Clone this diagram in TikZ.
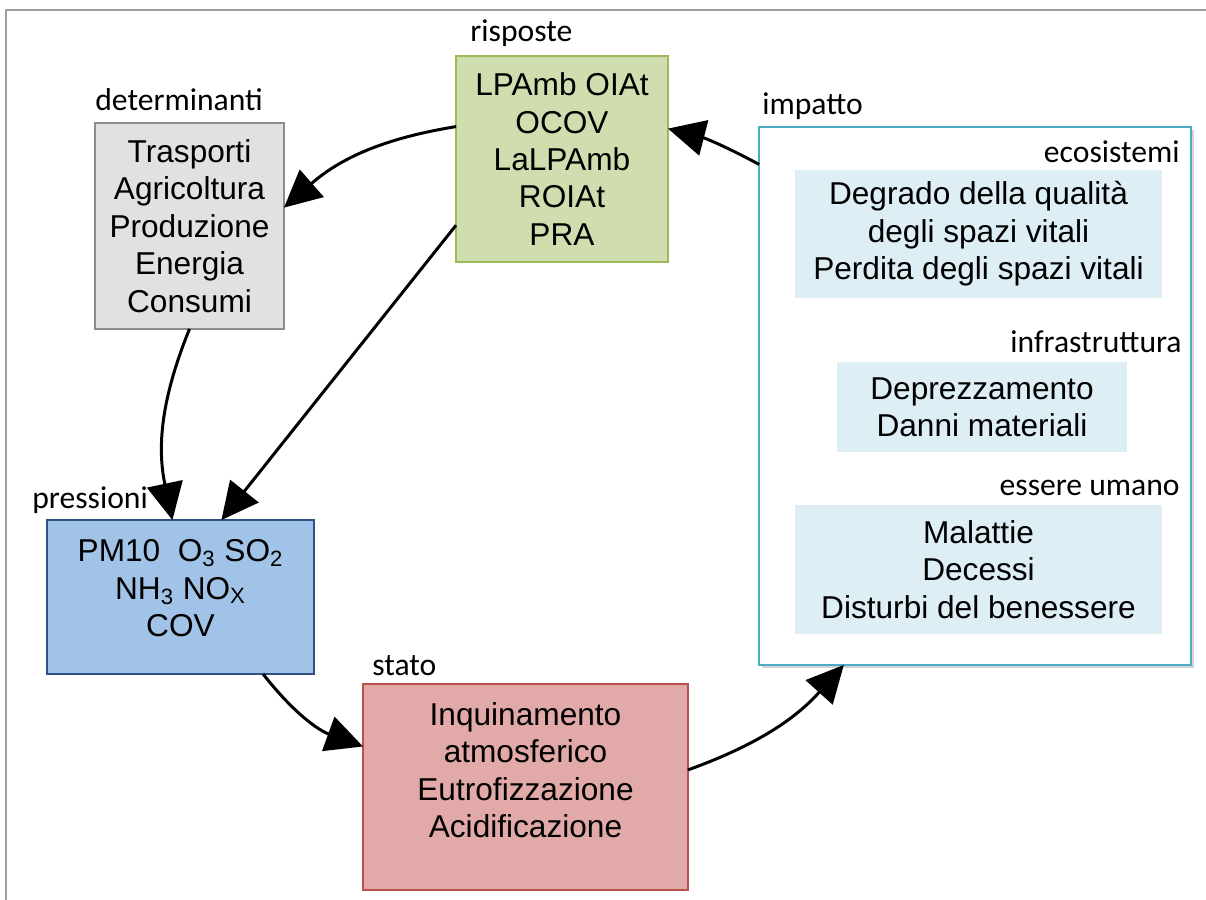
\documentclass[tikz,border=0pt]{standalone}
\usepackage{fontspec}
\setmainfont{Liberation Sans}
\newfontfamily\lblfont{Carlito}
\usepackage{xcolor}
\usetikzlibrary{arrows.meta, positioning, shadows}

\definecolor{detfill}{HTML}{E1E1E1}
\definecolor{detline}{HTML}{8C8C8C}
\definecolor{rispfill}{HTML}{D0DEAF}
\definecolor{rispline}{HTML}{9BBB59}
\definecolor{impline}{HTML}{4BACC6}
\definecolor{subfill}{HTML}{DEEEF5}
\definecolor{pressfill}{HTML}{A2C3E8}
\definecolor{pressline}{HTML}{2F5285}
\definecolor{statofill}{HTML}{E1A9A7}
\definecolor{statoline}{HTML}{B9504C}
\definecolor{framecol}{HTML}{A39C9C}

\begin{document}
\begin{tikzpicture}[
        x=0.02cm, y=-0.02cm,
        box/.style = {draw, line width=0.8pt, inner sep=0pt, outer sep=0pt,
                      align=center, font=\fontsize{18}{21.3}\selectfont},
        subbox/.style = {fill=subfill, inner sep=0pt, align=center,
                      font=\fontsize{18}{21.3}\selectfont},
        tag/.style = {font=\lblfont\fontsize{18}{21.3}\selectfont, inner sep=0pt},
        link/.style = {line width=1.7pt, -{Triangle[length=0.74cm, width=0.72cm]}}
    ]
    \useasboundingbox (0,0) rectangle (1206,899);
    \draw[framecol, line width=1.2pt] (6,920) -- (6,10) -- (1230,10);

    % boxes
    \node[box, fill=detfill, draw=detline, minimum width=3.78cm, minimum height=4.12cm]
        (det) at (189.5,226) {Trasporti\\Agricoltura\\Produzione\\Energia\\Consumi};
    \node[box, fill=rispfill, draw=rispline, minimum width=4.24cm, minimum height=4.12cm]
        (risp) at (562,159) {LPAmb OIAt\\OCOV\\LaLPAmb\\ROIAt\\PRA};
    \node[box, fill=white, draw=impline, minimum width=8.64cm, minimum height=10.76cm,
          drop shadow={opacity=0.35, shadow xshift=1.5pt, shadow yshift=-1.5pt}]
        (imp) at (975,396) {};
    \node[box, fill=pressfill, draw=pressline, minimum width=5.34cm, minimum height=3.08cm,
          text depth=0.36cm]
        (press) at (180.5,597) {PM10~~O\textsubscript{3} SO\textsubscript{2}\\
        NH\textsubscript{3} NO\textsubscript{X}\\COV};
    \node[box, fill=statofill, draw=statoline, minimum width=6.5cm, minimum height=4.12cm,
          text depth=0.68cm]
        (stato) at (525.5,787) {Inquinamento\\atmosferico\\Eutrofizzazione\\Acidificazione};

    % inside impatto
    \node[subbox, minimum width=7.34cm, minimum height=2.56cm] (eco) at (978.5,234)
        {Degrado della qualità\\degli spazi vitali\\Perdita degli spazi vitali};
    \node[subbox, minimum width=5.8cm, minimum height=1.8cm] (infra) at (982,407)
        {Deprezzamento\\Danni materiali};
    \node[subbox, minimum width=7.34cm, minimum height=2.58cm] (umano) at (978.5,569.5)
        {Malattie\\Decessi\\Disturbi del benessere};

    % labels
    \node[tag, anchor=base west] (ldet)   at (95,110)   {determinanti};
    \node[tag, anchor=base west] (lrisp)  at (470,41)   {risposte};
    \node[tag, anchor=base west] (limp)   at (762,114)  {impatto};
    \node[tag, anchor=base west] (lpress) at (32,508)   {pressioni};
    \node[tag, anchor=base west] (lstato) at (372,675)  {stato};
    \node[tag, anchor=base east] (leco)   at (1180,162) {ecosistemi};
    \node[tag, anchor=base east] (linfra) at (1182,352) {infrastruttura};
    \node[tag, anchor=base east] (luomo)  at (1180,495) {essere umano};

    % cycle
    \draw[link] (risp.163) to[bend right=16] (det.11);
    \draw[link] (det.south) to[bend right=17] (press.96);
    \draw[link] (risp.212) -- (press.62);
    \draw[link] (press.-43) to[bend right=16] (stato.166);
    \draw[link] (stato.6) to[bend right=14] (imp.244);
    \draw[link] (imp.133) to[bend right=7] (risp.16);

\end{tikzpicture}
\end{document}
